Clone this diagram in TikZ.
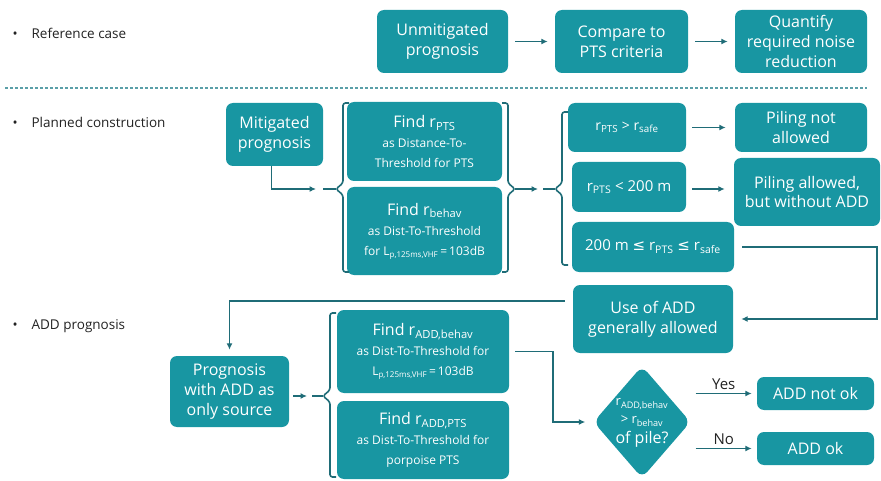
\documentclass[tikz,border=0pt]{standalone}
\usepackage{fontspec}
\setmainfont{Open Sans}
\newfontfamily\symfont{DejaVu Sans}
\usetikzlibrary{arrows.meta,shapes.geometric}
\definecolor{teal}{HTML}{1896A2}
\definecolor{linkc}{HTML}{1F6C77}
\definecolor{sepc}{HTML}{5A9FA8}
\definecolor{ink}{HTML}{222222}
\newcommand{\smalltxt}{\fontsize{12}{14.5}\selectfont}
\newcommand{\midtxt}{\fontsize{14}{17}\selectfont}
\newcommand{\leqsym}{{\symfont ≤}}
\tikzset{
  box/.style={fill=teal, rounded corners=7pt, text=white, align=center, inner sep=0pt,
              font=\fontsize{16}{20}\selectfont},
  decision/.style={diamond, fill=teal, rounded corners=8pt, inner sep=0pt,
              minimum width=97pt, minimum height=112pt},
  link/.style={linkc, line width=1.6pt},
  arr/.style={link, -{Latex[length=6.5pt,width=6pt]}},
  bullet/.style={anchor=west, text=ink, font=\fontsize{13.5}{16}\selectfont},
  answer/.style={text=ink, font=\fontsize{15}{18}\selectfont, above=0pt}
}
% braces: x, top, bottom, tip y (, tail x)
\newcommand{\bracel}[5]{%
  \draw[link, rounded corners=2.5pt] (#1+6,#2) -- (#1,#2) -- (#1,#4-6) -- (#1-7,#4) -- (#1,#4+6) -- (#1,#3) -- (#1+6,#3);
  \draw[link] (#1-7,#4) -- (#5,#4);}
\newcommand{\bracer}[4]{%
  \draw[link, rounded corners=2.5pt] (#1-6,#2) -- (#1,#2) -- (#1,#4-6) -- (#1+7,#4) -- (#1,#4+6) -- (#1,#3) -- (#1-6,#3);}

\begin{document}
\begin{tikzpicture}[x=1pt,y=-1pt]
\useasboundingbox (0,0) rectangle (881,481);

% ---------- section titles
\node[bullet] (lref) at (9,33) {•\hspace{14pt}Reference case};
\node[bullet] (lplan) at (9,122) {•\hspace{14pt}Planned construction};
\node[bullet] (ladd) at (9,326) {•\hspace{14pt}ADD prognosis};
\draw[sepc, line width=1.1pt, dash pattern=on 3pt off 2pt] (5,88) -- (867,88);

% ---------- reference case
\node[box, minimum width=131pt, minimum height=63pt] (unmit) at (442.5,41.5) {Unmitigated\\prognosis};
\node[box, minimum width=133pt, minimum height=63pt] (compare) at (621.5,41.5) {Compare to\\PTS criteria};
\node[box, minimum width=132pt, minimum height=63pt] (quant) at (801,41.5) {Quantify\\required noise\\reduction};
\draw[arr, shorten <=7pt, shorten >=7pt] (unmit) -- (compare);
\draw[arr, shorten <=7pt, shorten >=7pt] (compare) -- (quant);

% ---------- planned construction
\node[box, minimum width=97pt, minimum height=63pt] (mitig) at (274.5,134.5) {Mitigated\\prognosis};
\node[box, minimum width=155pt, minimum height=79pt] (findpts) at (424.5,141.5)
  {Find r\textsubscript{PTS}\\\smalltxt as Distance-To-\\\smalltxt Threshold for PTS};
\node[box, minimum width=155pt, minimum height=88pt] (findbeh) at (424.5,231)
  {Find r\textsubscript{behav}\\\smalltxt as Dist-To-Threshold\\\smalltxt for L\textsubscript{p,125ms,VHF}\,=\,103dB};
\node[box, minimum width=118pt, minimum height=49pt, font=\midtxt] (gtsafe) at (627,127.5) {r\textsubscript{PTS} > r\textsubscript{safe}};
\node[box, minimum width=114pt, minimum height=50pt, font=\fontsize{15}{18}\selectfont] (lt200) at (629,187) {r\textsubscript{PTS} < 200 m};
\node[box, minimum width=162pt, minimum height=50pt, font=\fontsize{15}{18}\selectfont] (between) at (653,247) {200 m \leqsym{} r\textsubscript{PTS} \leqsym{} r\textsubscript{safe}};
\node[box, minimum width=132pt, minimum height=49pt] (notallowed) at (801,127.5) {Piling not\\allowed};
\node[box, minimum width=146pt, minimum height=68pt] (allowed) at (807,192) {Piling allowed,\\but without ADD};
\node[box, minimum width=160pt, minimum height=68pt] (useadd) at (653,319) {Use of ADD\\generally allowed};

\coordinate (t1) at (323,189);
\coordinate (r1) at (515,189);
\coordinate (t2) at (543,189);
\draw[arr, shorten >=7pt] ([xshift=-3pt]mitig.south) |- (t1);
\bracel{343}{103}{272}{189}{323}
\bracer{508}{103}{272}{189}
\draw[arr, shorten >=5pt] (r1) -- (t2);
\bracel{562}{112}{265}{189}{543}
\draw[arr, shorten <=6pt, shorten >=9pt] (gtsafe) -- (notallowed);
\draw[arr, shorten <=6pt, shorten >=9pt] (lt200.east |- r1) -- (allowed.west |- r1);
\draw[arr, shorten <=8pt, shorten >=8pt] (between.east) -- ++(143,0) |- (useadd.east);

% ---------- ADD prognosis
\node[box, minimum width=119pt, minimum height=71pt] (progadd) at (229.5,391.5) {Prognosis\\with ADD as\\only source};
\node[box, minimum width=172pt, minimum height=83pt] (findaddb) at (423,351.5)
  {Find r\textsubscript{ADD,behav}\\\smalltxt as Dist-To-Threshold for\\\smalltxt L\textsubscript{p,125ms,VHF}\,=\,103dB};
\node[box, minimum width=172pt, minimum height=78pt] (findaddp) at (423,440)
  {Find r\textsubscript{ADD,PTS}\\\smalltxt as Dist-To-Threshold for\\\smalltxt porpoise PTS};
\node[decision] (q) at (642,422) {};
\node[text=white, align=center, inner sep=0pt, font=\fontsize{13}{15}\selectfont] (qtxt) at ([yshift=-1pt]q)
  {r\textsubscript{ADD,behav}\\[3pt]> r\textsubscript{behav}\\[4pt]\fontsize{16}{19}\selectfont of pile?};
\node[box, minimum width=117pt, minimum height=33pt] (notok) at (815.5,393.5) {ADD not ok};
\node[box, minimum width=117pt, minimum height=33pt] (ok) at (815.5,448.5) {ADD ok};

\coordinate (t4) at (312,396);
\draw[arr, shorten <=8pt, shorten >=6pt] ([yshift=18pt]useadd.west) -| (progadd.north);
\draw[arr, shorten <=4pt, shorten >=5pt] (progadd.east |- t4) -- (t4);
\bracel{330}{313}{477}{396}{312}
\draw[arr, shorten <=6pt, shorten >=8pt] (findaddb.east) -- ++(44,0) |- (q.west);
\draw[arr, shorten <=5pt, shorten >=5pt] (q.east |- notok.west) -- node[answer] {Yes} (notok.west);
\draw[arr, shorten <=5pt, shorten >=5pt] (q.east |- ok.west) -- node[answer] {No} (ok.west);

\end{tikzpicture}
\end{document}
